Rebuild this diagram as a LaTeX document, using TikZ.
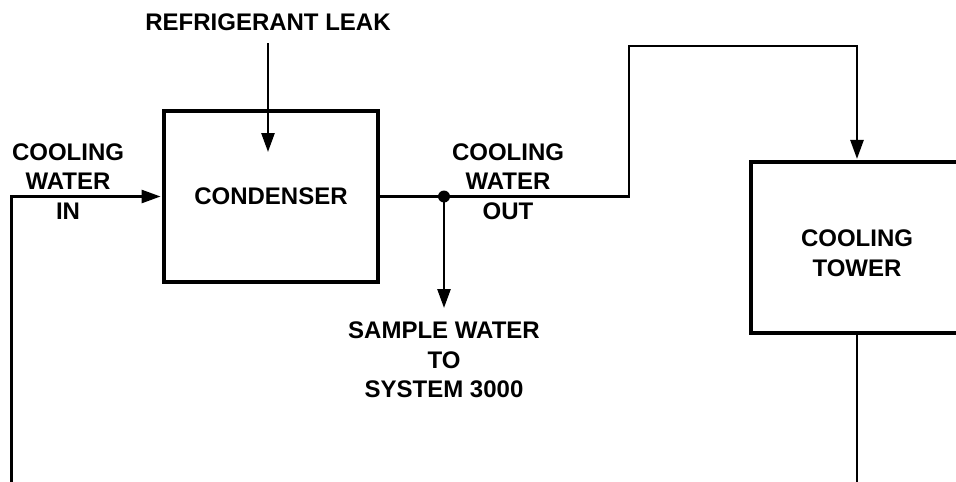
\documentclass[tikz,border=0pt]{standalone}
\usepackage{fontspec}
\setmainfont{Liberation Sans}
\usetikzlibrary{arrows.meta}
\begin{document}
\begin{tikzpicture}[x=1pt,y=-1pt,
  lbl/.style={font=\bfseries\fontsize{24}{29.5}\selectfont, align=center, inner sep=0pt},
  boxnode/.style={draw, line width=3.8pt, inner sep=0pt, font=\bfseries\fontsize{24}{29.5}\selectfont, align=center},
  conn/.style={line width=2.6pt},
  arr/.style={conn, -{Triangle[length=19pt,width=13pt]}},
  junction/.style={circle, fill, inner sep=0pt, minimum size=12pt}]
\useasboundingbox (0,0) rectangle (956,482);
\clip (0,0) rectangle (956,482);
% boxes
\node[boxnode, minimum width=214pt, minimum height=170.5pt] (cond) at (271,196.5) {CONDENSER};
\node[boxnode, minimum width=211.5pt, minimum height=170.7pt] (tower) at (857,247.7) {};
\node[lbl] (towerlbl) at (857,253) {COOLING\\TOWER};
% labels
\node[lbl] (leak) at (268,22.5) {REFRIGERANT LEAK};
\node[lbl] (inlbl) at (68,181.5) {COOLING\\WATER\\IN};
\node[lbl] (outlbl) at (508,181.5) {COOLING\\WATER\\OUT};
\node[lbl] (samplelbl) at (444,360) {SAMPLE WATER\\TO\\SYSTEM 3000};
% junction and free ends
\node[junction] (j) at (444,196.5) {};
\coordinate (inStart) at (11.5,482);
\coordinate (leakTip) at (268,152);
\coordinate (leakStart) at (268,43);
\coordinate (sampleEnd) at (444,308);
\coordinate (towerOut) at (857,482);
% connectors
\draw[arr, shorten >=1.5pt] (inStart) |- (cond.west);
\draw[arr] (leakStart) -- (leakTip);
\draw[conn] (cond.east) -- (j.center);
\draw[arr] (j.center) -- (sampleEnd);
\draw[arr, shorten >=1.5pt] (j.center) -- ++(185,0) -- ++(0,-150.5) -| (tower.north);
\draw[conn] (tower.south) -- (towerOut);
\end{tikzpicture}
\end{document}
